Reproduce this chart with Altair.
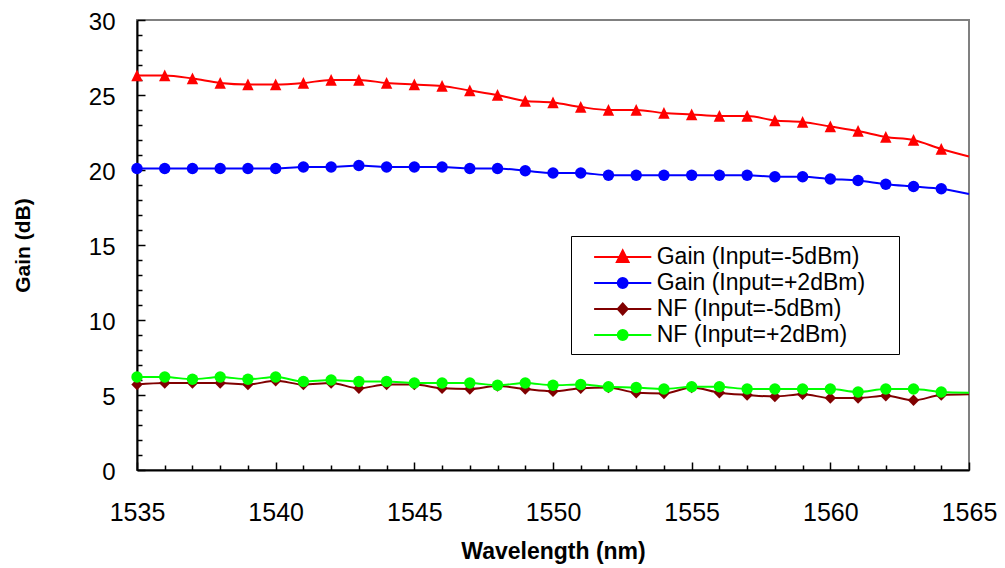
import altair as alt
import pandas as pd

# ---------------- data ----------------
wavelengths = list(range(1535, 1566))  # nm
last_marker = 1564                     # markers drawn up to this wavelength

gain_m5 = [26.3, 26.3, 26.1, 25.8, 25.7, 25.7, 25.8, 26.0, 26.0, 25.8,
           25.7, 25.6, 25.3, 25.0, 24.6, 24.5, 24.2, 24.0, 24.0, 23.8,
           23.7, 23.6, 23.6, 23.3, 23.2, 22.9, 22.6, 22.2, 22.0, 21.4, 20.9]
gain_p2 = [20.1, 20.1, 20.1, 20.1, 20.1, 20.1, 20.2, 20.2, 20.3, 20.2,
           20.2, 20.2, 20.1, 20.1, 19.95, 19.8, 19.8, 19.65, 19.65, 19.65,
           19.65, 19.65, 19.65, 19.55, 19.55, 19.4, 19.3, 19.05, 18.9, 18.75, 18.4]
nf_m5 = [5.7, 5.8, 5.8, 5.8, 5.7, 5.95, 5.7, 5.8, 5.45, 5.7,
         5.7, 5.45, 5.4, 5.6, 5.4, 5.25, 5.45, 5.5, 5.15, 5.1,
         5.5, 5.15, 5.0, 4.9, 5.05, 4.8, 4.8, 4.95, 4.65, 5.0, 5.05]
nf_p2 = [6.2, 6.2, 6.05, 6.2, 6.05, 6.2, 5.9, 6.0, 5.9, 5.9,
         5.8, 5.8, 5.8, 5.65, 5.8, 5.65, 5.7, 5.55, 5.5, 5.4,
         5.55, 5.55, 5.4, 5.4, 5.4, 5.4, 5.2, 5.4, 5.4, 5.2, 5.15]

series_names = ["Gain (Input=-5dBm)", "Gain (Input=+2dBm)",
                "NF (Input=-5dBm)", "NF (Input=+2dBm)"]
series_colors = ["#FF0000", "#0000FF", "#800000", "#00FF00"]
marker_shapes = ["M0,-1.05L1,1L-1,1Z", "circle", "diamond", "circle"]
legend_shapes = [
    "M-2.2,0H2.2M0,-0.5L0.45,0.38L-0.45,0.38Z",
    "M-2.2,0H2.2M-0.38,0A0.38,0.38,0,1,0,0.38,0A0.38,0.38,0,1,0,-0.38,0Z",
    "M-2.2,0H2.2M0,-0.42L0.38,0L0,0.42L-0.38,0Z",
    "M-2.2,0H2.2M-0.38,0A0.38,0.38,0,1,0,0.38,0A0.38,0.38,0,1,0,-0.38,0Z",
]

x_ticks = list(range(1535, 1566, 5))
x_minor = list(range(1535, 1566))
y_ticks = list(range(0, 31, 5))
y_minor = list(range(0, 31))

rows = []
for name, vals in zip(series_names, [gain_m5, gain_p2, nf_m5, nf_p2]):
    for w, v in zip(wavelengths, vals):
        rows.append({"wl": w, "value": v, "series": name})
df = pd.DataFrame(rows)

# ---------------- layout ----------------
W, H = 832, 450
FONT = "Liberation Sans"

xscale = alt.Scale(domain=[1535, 1565], nice=False, zero=False)
yscale = alt.Scale(domain=[0, 30], nice=False, zero=False)
cscale = alt.Scale(domain=series_names, range=series_colors)

x_main_axis = alt.Axis(values=x_ticks, format="d", ticks=False, tickSize=0,
                       labelFlush=False, labelOverlap=False,
                       labelFontSize=25, labelFont=FONT, labelColor="black",
                       labelPadding=30, domainColor="black", domainWidth=2,
                       grid=False, title="Wavelength (nm)", titleFont=FONT,
                       titleFontSize=23, titleFontWeight="bold",
                       titleColor="black", titlePadding=15)
y_main_axis = alt.Axis(values=y_ticks, format="d", ticks=False, tickSize=0,
                       labelFlush=False, labelOverlap=False, labelOffset=2,
                       labelFontSize=24, labelFont=FONT, labelColor="black",
                       labelPadding=22, domainColor="black", domainWidth=2,
                       grid=False, title="Gain (dB)", titleFont=FONT,
                       titleFontSize=21, titleFontWeight="bold",
                       titleColor="black", titlePadding=55)

tick_cond = {"condition": {"test": "datum.value % 5 === 0", "value": 8}, "value": 5}
x_tick_axis = alt.Axis(orient="top", offset=-H, values=x_minor, labels=False,
                       domain=False, grid=False, title=None, tickColor="black",
                       tickWidth=1.5, tickSize=tick_cond)
y_tick_axis = alt.Axis(orient="right", offset=-W, values=y_minor, labels=False,
                       domain=False, grid=False, title=None, tickColor="black",
                       tickWidth=1.5, tickSize=tick_cond)

lines = alt.Chart(df).mark_line(interpolate="monotone", strokeWidth=2).encode(
    x=alt.X("wl:Q", scale=xscale, axis=x_main_axis),
    y=alt.Y("value:Q", scale=yscale, axis=y_main_axis),
    color=alt.Color("series:N", scale=cscale, legend=None),
)

points = alt.Chart(df).transform_filter(
    alt.datum.wl <= last_marker
).mark_point(filled=True, size=130, opacity=1).encode(
    x=alt.X("wl:Q", scale=xscale, axis=x_tick_axis),
    y=alt.Y("value:Q", scale=yscale, axis=y_tick_axis),
    color=alt.Color("series:N", scale=cscale, legend=None),
    shape=alt.Shape("series:N", scale=alt.Scale(domain=series_names, range=marker_shapes), legend=None),
)

# the legend title is an invisible spacer on the right that widens the box
leg = alt.Legend(orient="none", legendX=434, legendY=216,
                 title=".", titleOrient="right", titleOpacity=0,
                 titleFontSize=8, titlePadding=24,
                 symbolSize=676, symbolOffset=30.7, labelOffset=20,
                 symbolStrokeWidth=2, labelFont=FONT, labelFontSize=23,
                 labelColor="black", labelLimit=500, padding=7,
                 rowPadding=0, strokeColor="black", fillColor="white")

legend_layer = alt.Chart(df).transform_filter("false").mark_point(
    filled=True, opacity=1, strokeWidth=2
).encode(
    fill=alt.Fill("series:N", scale=alt.Scale(domain=series_names, range=series_colors), legend=leg),
    stroke=alt.Stroke("series:N", scale=alt.Scale(domain=series_names, range=series_colors), legend=leg),
    shape=alt.Shape("series:N", scale=alt.Scale(domain=series_names, range=legend_shapes), legend=leg),
)

chart = alt.layer(lines, points, legend_layer).resolve_scale(
    fill="independent", stroke="independent", shape="independent"
).resolve_axis(
    x="independent", y="independent"
).properties(
    width=W, height=H,
    autosize=alt.AutoSizeParams(type="none"),
    padding={"left": 129, "top": 12, "right": 28, "bottom": 96},
).configure(font=FONT).configure_view(stroke="#808080", strokeWidth=2)

chart.save("out.html", embed_options={"renderer": "svg", "actions": False})
